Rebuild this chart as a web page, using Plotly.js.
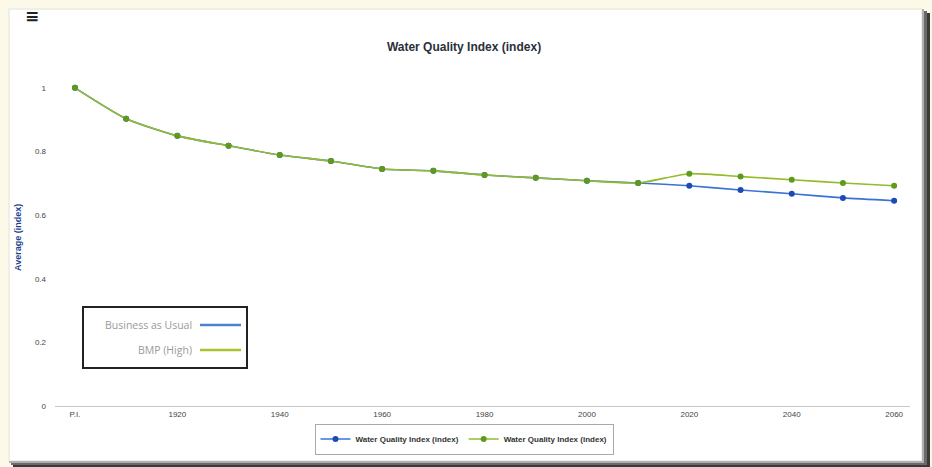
<!DOCTYPE html>
<html>
<head>
<meta charset="utf-8">
<script src="https://cdn.plot.ly/plotly-3.0.1.min.js"></script>
<style>html,body{margin:0;padding:0;background:#fdf9e8;}#chart{width:932px;height:467px;}</style>
</head>
<body>
<div id="chart"></div>
<script>
// ---- data ----
const categories = ["P.I.","1910","1920","1930","1940","1950","1960","1970","1980","1990","2000","2010","2020","2030","2040","2050","2060"];
const tickLabels = ["P.I.","1920","1940","1960","1980","2000","2020","2040","2060"];
const businessAsUsual = [1.0,0.903,0.849,0.818,0.789,0.770,0.745,0.739,0.726,0.717,0.708,0.701,0.692,0.679,0.667,0.654,0.645];
const bmpHigh        = [1.0,0.903,0.849,0.818,0.789,0.770,0.745,0.739,0.726,0.717,0.708,0.701,0.730,0.721,0.711,0.701,0.692];
const seriesNames = ["Water Quality Index (index)","Water Quality Index (index)"];
const scenarioNames = ["Business as Usual","BMP (High)"];
const yTicks = [0,0.2,0.4,0.6,0.8,1];
const yTickText = ["0","0.2","0.4","0.6","0.8","1"];
const chartTitle = "Water Quality Index (index)";
const yTitle = "Average (index)";

// ---- geometry helpers (pixel -> paper) ----
const W = 932, H = 467, L = 55, R = 22, T = 56, B = 61;
const PW = W - L - R, PH = H - T - B;
const px = x => (x - L) / PW;
const py = y => (H - B - y) / PH;

const blueLine = "#3a72d6", blueMark = "#1c4bb8";
const greenLine = "#94bb2a", greenMark = "#5d9a1e";

const traces = [
  {x: categories, y: businessAsUsual, name: seriesNames[0], type: "scatter", mode: "lines+markers",
   line: {color: blueLine, width: 1.6, shape: "spline", smoothing: 0.6},
   marker: {color: blueMark, size: 6}},
  {x: categories, y: bmpHigh, name: seriesNames[1], type: "scatter", mode: "lines+markers",
   line: {color: greenLine, width: 1.6, shape: "spline", smoothing: 0.6},
   marker: {color: greenMark, size: 6}}
];

function rect(x0, y0, x1, y1, fill, line) {
  return {type: "rect", xref: "paper", yref: "paper", layer: "below",
    x0: px(x0), x1: px(x1), y0: py(y1), y1: py(y0),
    fillcolor: fill, line: line || {width: 0}};
}

const shapes = [
  rect(13, 13, 930, 467, "#3a3a3a"),
  rect(11, 11, 927, 465, "#6a6a6a"),
  rect(9, 9, 924, 463, "#b0b0b0"),
  rect(8, 8, 922, 461, "#f0efe6"),
  rect(10, 10, 921, 460, "#ffffff"),
  // inner scenario legend box
  {type: "rect", xref: "paper", yref: "paper", layer: "above",
   x0: px(83), x1: px(247), y0: py(368), y1: py(307),
   fillcolor: "rgba(255,255,255,1)", line: {color: "#222", width: 2}},
  {type: "line", xref: "paper", yref: "paper", x0: px(200), x1: px(241), y0: py(325), y1: py(325),
   line: {color: "#4a82d4", width: 2.5}},
  {type: "line", xref: "paper", yref: "paper", x0: px(200), x1: px(241), y0: py(350), y1: py(350),
   line: {color: "#a9c232", width: 2.5}}
];

const annotations = [
  {text: "<b>≡</b>", xref: "paper", yref: "paper", x: px(32), y: py(16), showarrow: false,
   font: {family: "DejaVu Sans", size: 17, color: "#222"}, xanchor: "center", yanchor: "middle"},
  {text: "<b>" + yTitle + "</b>", xref: "paper", yref: "paper", x: px(18), y: py(238), textangle: -90,
   showarrow: false, font: {family: "Liberation Sans", size: 9, color: "#1e3f8c"}, xanchor: "center", yanchor: "middle"},
  {text: scenarioNames[0], xref: "paper", yref: "paper", x: px(194), y: py(325), showarrow: false,
   xanchor: "right", yanchor: "middle", font: {family: "Open Sans", size: 10.5, color: "#9a9a9a"}},
  {text: scenarioNames[1], xref: "paper", yref: "paper", x: px(194), y: py(350), showarrow: false,
   xanchor: "right", yanchor: "middle", font: {family: "Open Sans", size: 10.5, color: "#9a9a9a"}}
];

const layout = {
  width: W, height: H,
  margin: {l: L, r: R, t: T, b: B, pad: 0},
  paper_bgcolor: "#fdf9e8",
  plot_bgcolor: "rgba(0,0,0,0)",
  title: {text: "<b>" + chartTitle + "</b>", x: px(464), xref: "paper", xanchor: "center",
          y: 1 - 47 / H, yanchor: "middle",
          font: {family: "Liberation Sans", size: 12, color: "#2a2f3a"}},
  xaxis: {type: "category", range: [-0.39, 16.31], tickmode: "array", tickvals: tickLabels, ticktext: tickLabels,
          showgrid: false, zeroline: false, showline: true, linecolor: "#c8c8c8", linewidth: 1,
          ticks: "", tickfont: {family: "Liberation Sans", size: 8, color: "#444"}, fixedrange: true},
  yaxis: {range: [0, 1.1], tickmode: "array", tickvals: yTicks, ticktext: yTickText,
          showgrid: false, zeroline: false, showline: false, ticks: "", ticklabelstandoff: 8,
          tickfont: {family: "Liberation Sans", size: 8, color: "#444"}, fixedrange: true},
  showlegend: true,
  legend: {orientation: "h", x: px(464), xanchor: "center", y: py(439), yanchor: "middle",
           bgcolor: "#ffffff", bordercolor: "#aaa", borderwidth: 1,
           font: {family: "Liberation Sans", size: 8, color: "#333", weight: "bold"},
           itemwidth: 30, traceorder: "normal", entrywidthmode: "pixels"},
  shapes: shapes,
  annotations: annotations
};

Plotly.newPlot("chart", traces, layout, {displayModeBar: false, staticPlot: true});
</script>
</body>
</html>
